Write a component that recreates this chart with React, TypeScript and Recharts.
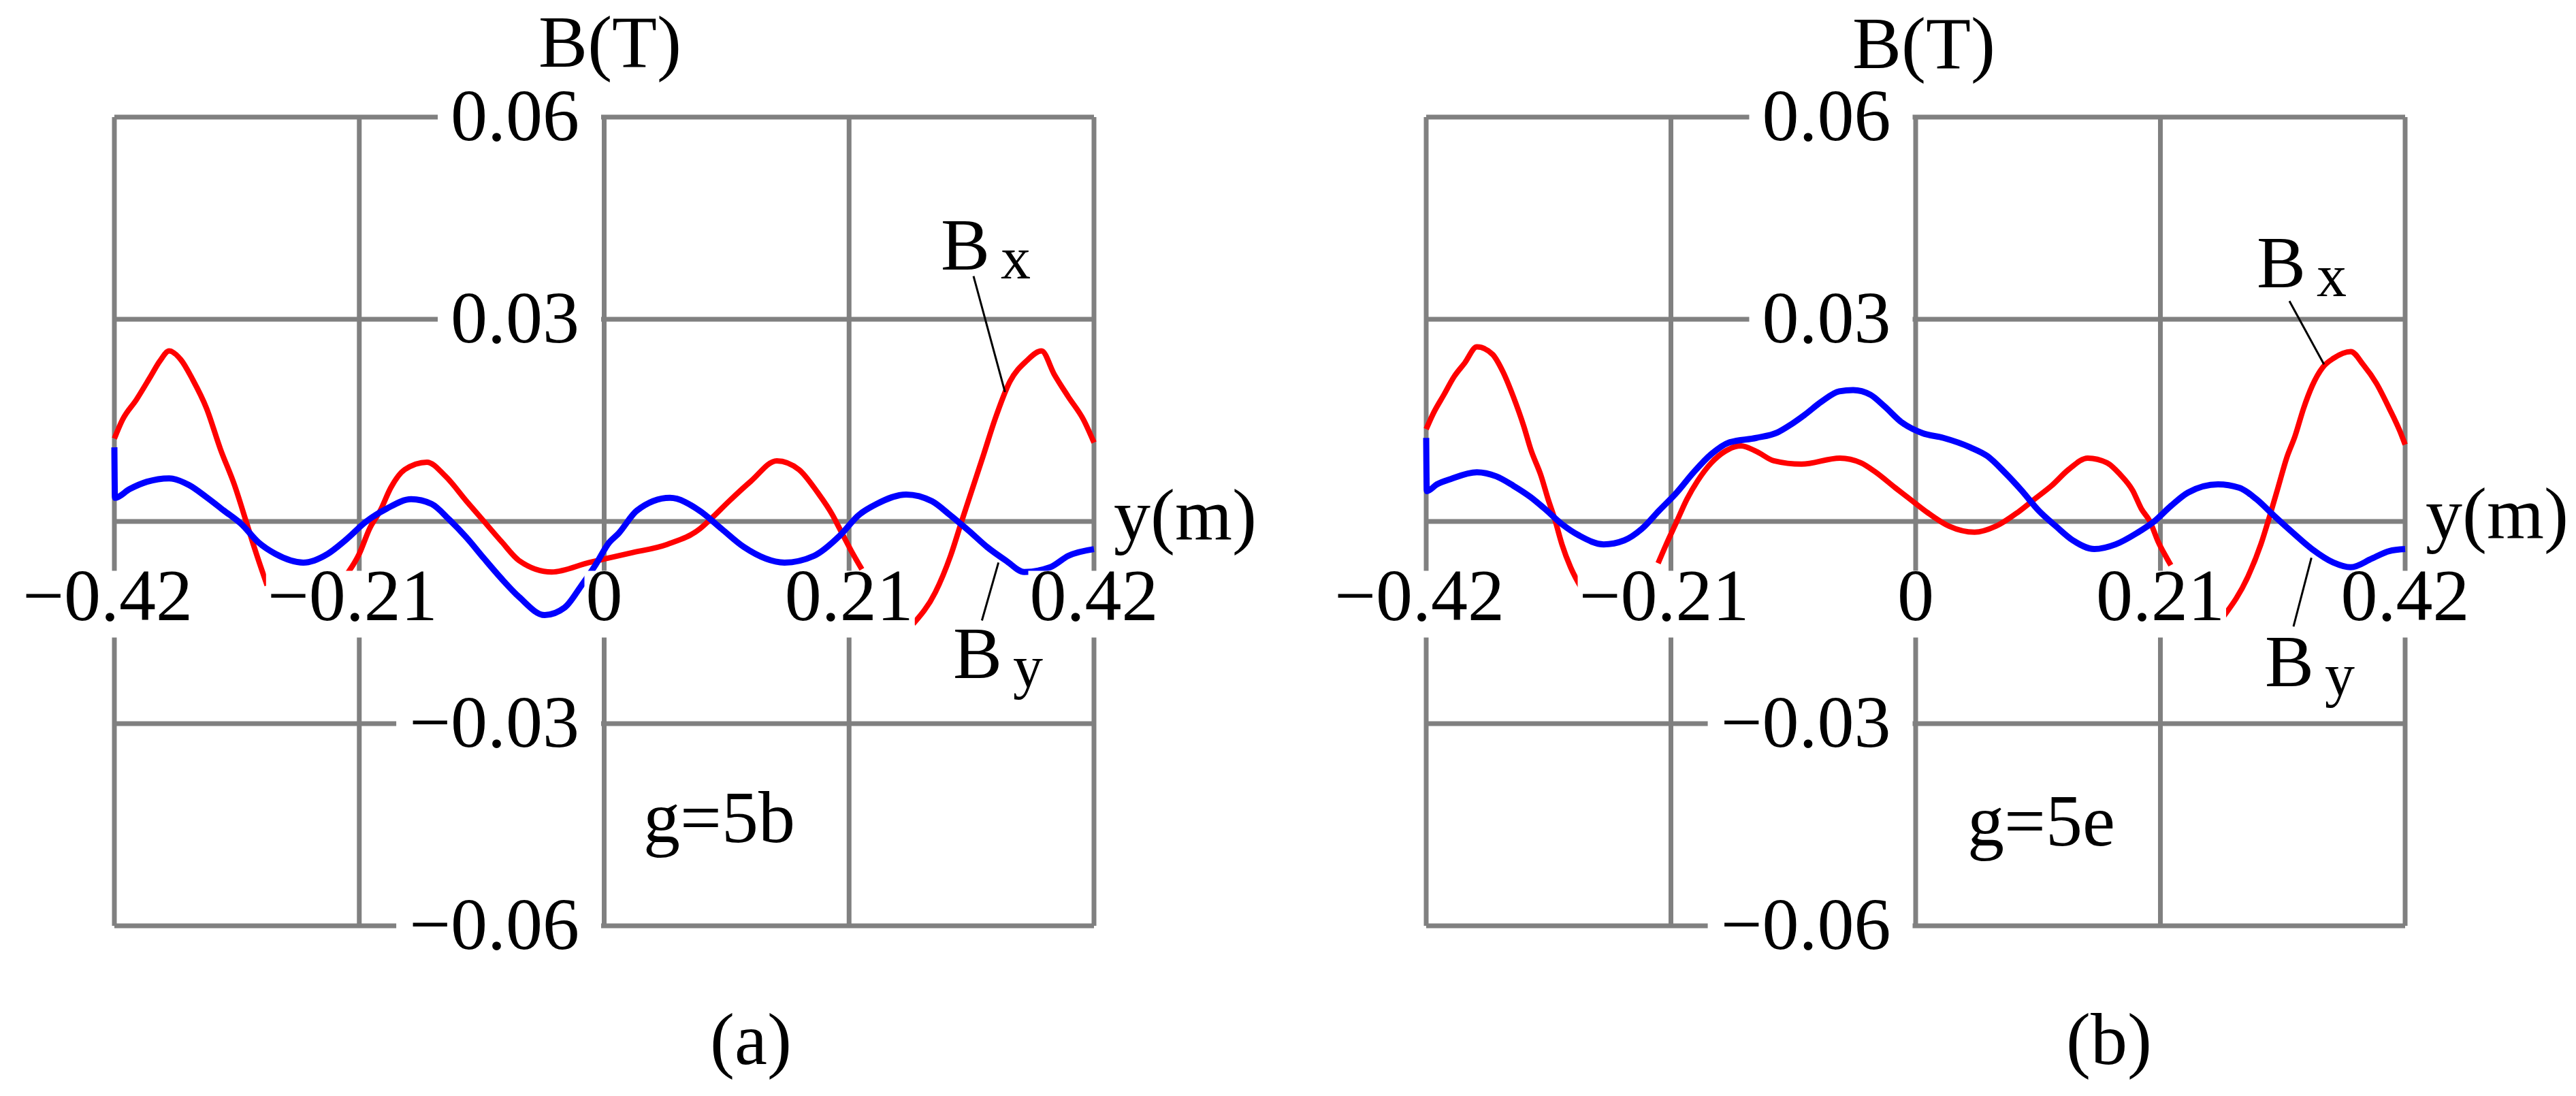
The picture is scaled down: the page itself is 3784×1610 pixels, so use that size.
import React from "react";
import {
  LineChart,
  Line,
  XAxis,
  YAxis,
  CartesianGrid,
  ReferenceLine,
  ReferenceDot,
} from "recharts";

const FONT = "'Liberation Serif', 'Times New Roman', serif";
const FS = 108;

const xTicks = [-0.42, -0.21, 0, 0.21, 0.42];
const xTickLabels = ["−0.42", "−0.21", "0", "0.21", "0.42"];
const yTicks = [-0.06, -0.03, 0, 0.03, 0.06];
const yTickLabels = ["−0.06", "−0.03", "", "0.03", "0.06"];

// panel (a), g=5b
const posBxA = [
  -0.42, -0.413, -0.401, -0.389, -0.381, -0.373, -0.363, -0.353, -0.341, -0.329,
  -0.317, -0.307, -0.299, -0.289, -0.26, -0.2235, -0.21, -0.201, -0.192, -0.183,
  -0.171, -0.152, -0.136, -0.118, -0.103, -0.088, -0.073, -0.045, -0.013, 0.002,
  0.022, 0.054, 0.082, 0.091, 0.107, 0.126, 0.148, 0.167, 0.183, 0.196,
  0.202, 0.212, 0.221, 0.24, 0.265, 0.284, 0.297, 0.3065, 0.316, 0.3255,
  0.335, 0.348, 0.362, 0.375, 0.386, 0.398, 0.411, 0.42,
];
const bxA = [
  0.0123, 0.0151, 0.0181, 0.0215, 0.0238, 0.0253, 0.024, 0.0211, 0.0168, 0.0107,
  0.0054, 0.0, -0.0044, -0.0095, null, -0.0085, -0.0048, -0.001, 0.0016, 0.005,
  0.0077, 0.0088, 0.0067, 0.003, 0.0, -0.003, -0.0058, -0.0075, -0.0061, -0.0055,
  -0.0047, -0.0034, -0.0011, 0.0003, 0.003, 0.006, 0.009, 0.0077, 0.0043, 0.0009,
  -0.0011, -0.0044, -0.0071, null, -0.0152, -0.0105, -0.0051, 0.0, 0.005, 0.01,
  0.0151, 0.0208, 0.0238, 0.0253, 0.0218, 0.0185, 0.0151, 0.0117,
];
const posByA = [
  -0.42, -0.4195, -0.407, -0.392, -0.373, -0.356, -0.341, -0.326, -0.311, -0.2965,
  -0.282, -0.258, -0.237, -0.222, -0.204, -0.1865, -0.1655, -0.148, -0.133, -0.118,
  -0.103, -0.088, -0.073, -0.051, -0.034, -0.0195, -0.0076, 0.0044, 0.0122, 0.028,
  0.0564, 0.0818, 0.1007, 0.1198, 0.1546, 0.18, 0.2021, 0.218, 0.2337, 0.259,
  0.2811, 0.2969, 0.3128, 0.3284, 0.3445, 0.3602, 0.3824, 0.398, 0.42,
];
const byA = [
  0.011, 0.0035, 0.0048, 0.0059, 0.0064, 0.0054, 0.0036, 0.0016, -0.0004, -0.0031,
  -0.0048, -0.0061, -0.0048, -0.0028, 0.0, 0.0019, 0.0033, 0.0026, 0.0003, -0.0024,
  -0.0055, -0.0085, -0.0112, -0.0139, -0.0128, -0.0095, -0.0065, -0.0031, -0.0018, 0.0016,
  0.0035, 0.0016, -0.0011, -0.0038, -0.0061, -0.0051, -0.0021, 0.0009, 0.0026, 0.004,
  0.003, 0.0009, -0.0014, -0.0038, -0.0058, -0.0075, -0.0068, -0.0051, -0.0041,
];

// panel (b), g=5e
const posBxB = [
  -0.42, -0.4137, -0.4048, -0.396, -0.387, -0.3765, -0.3631, -0.3541, -0.3452, -0.3362,
  -0.3303, -0.3213, -0.3154, -0.3096, -0.3035, -0.2961, -0.2857, -0.2737, -0.268, -0.245,
  -0.221, -0.214, -0.205, -0.1963, -0.1872, -0.1753, -0.1636, -0.15, -0.1367, -0.1217,
  -0.098, -0.065, -0.047, -0.035, -0.0175, -0.004, 0.0103, 0.0286, 0.0505, 0.0689,
  0.0872, 0.1019, 0.1166, 0.1312, 0.1477, 0.1642, 0.1753, 0.1862, 0.1936, 0.201,
  0.2083, 0.2157, 0.219, 0.24, 0.2646, 0.2851, 0.2962, 0.3036, 0.3109, 0.3183,
  0.3256, 0.3329, 0.3402, 0.3495, 0.3585, 0.3733, 0.3843, 0.3953, 0.4063, 0.4155,
  0.42,
];
const bxB = [
  0.0137, 0.0161, 0.0188, 0.0215, 0.0235, 0.0259, 0.0248, 0.0222, 0.0185, 0.0141,
  0.0107, 0.0067, 0.0033, 0.0003, -0.0034, -0.0068, -0.0102, -0.0132, -0.0145, null,
  -0.0062, -0.0034, 0.0, 0.0033, 0.006, 0.0087, 0.0104, 0.0112, 0.0104, 0.009,
  0.0085, 0.0094, 0.0087, 0.0074, 0.005, 0.0032, 0.0013, -0.0007, -0.0016, -0.0007,
  0.0013, 0.0033, 0.0053, 0.0077, 0.0094, 0.0087, 0.007, 0.0046, 0.0019, 0.0,
  -0.0031, -0.0055, -0.0065, null, -0.014, -0.0082, -0.0034, 0.0007, 0.005, 0.0094,
  0.0127, 0.0168, 0.0201, 0.0229, 0.0242, 0.0252, 0.0232, 0.0205, 0.0168, 0.0134,
  0.0114,
];
const posByB = [
  -0.42, -0.4195, -0.4108, -0.399, -0.3765, -0.36, -0.3452, -0.3303, -0.3184, -0.3035,
  -0.2886, -0.2677, -0.25, -0.235, -0.2202, -0.205, -0.1905, -0.1753, -0.1604, -0.1367,
  -0.1187, -0.1069, -0.0954, -0.0806, -0.0656, -0.0537, -0.0388, -0.0269, -0.012, 0.0058,
  0.0238, 0.0468, 0.0615, 0.0763, 0.0909, 0.1056, 0.1203, 0.1349, 0.1533, 0.1716,
  0.19, 0.2046, 0.219, 0.2338, 0.2594, 0.2777, 0.2924, 0.3072, 0.3219, 0.3401,
  0.3585, 0.3733, 0.3916, 0.4063, 0.42,
];
const byB = [
  0.0124, 0.0045, 0.0055, 0.0063, 0.0073, 0.0067, 0.0053, 0.0036, 0.0019, -0.0004,
  -0.0021, -0.0034, -0.0028, -0.0011, 0.0016, 0.0043, 0.0073, 0.01, 0.0117, 0.0124,
  0.0132, 0.0144, 0.0158, 0.0178, 0.0193, 0.0195, 0.0188, 0.0171, 0.0147, 0.0131,
  0.0124, 0.011, 0.0097, 0.0073, 0.0046, 0.0016, -0.0007, -0.0028, -0.0041, -0.0034,
  -0.0017, 0.0, 0.0023, 0.0043, 0.0055, 0.005, 0.0033, 0.0009, -0.0014, -0.0041,
  -0.0061, -0.0068, -0.0055, -0.0044, -0.0041,
];

// annotations, in data units
const notesA = [
  { text: "B(T)", pos: 0.005, val: 0.0675, anchor: "middle" },
  { text: "y(m)", pos: 0.437, val: -0.0027, anchor: "start" },
  { text: "B", sub: "x", pos: 0.2887, val: 0.0374, anchor: "start" },
  { text: "B", sub: "y", pos: 0.2992, val: -0.0232, anchor: "start" },
  { text: "g=5b", pos: 0.0336, val: -0.0476, anchor: "start" },
];
const notesB = [
  { text: "B(T)", pos: 0.007, val: 0.0673, anchor: "middle" },
  { text: "y(m)", pos: 0.4375, val: -0.0025, anchor: "start" },
  { text: "B", sub: "x", pos: 0.2926, val: 0.0347, anchor: "start" },
  { text: "B", sub: "y", pos: 0.2996, val: -0.0244, anchor: "start" },
  { text: "g=5e", pos: 0.0444, val: -0.0481, anchor: "start" },
];
const leadersA = [
  [{ x: 0.3167, y: 0.0364 }, { x: 0.3437, y: 0.0192 }],
  [{ x: 0.3239, y: -0.0147 }, { x: 0.3381, y: -0.0061 }],
];
const leadersB = [
  [{ x: 0.3207, y: 0.0327 }, { x: 0.3504, y: 0.0233 }],
  [{ x: 0.3242, y: -0.0156 }, { x: 0.3396, y: -0.0054 }],
];

const toRows = (pos: number[], val: (number | null)[]) =>
  pos.map((p, i) => ({ pos: p, v: val[i] }));

const textWidth = (s: string) =>
  s.split("").reduce((w, c) => w + (c === "−" ? 0.564 : c === "." ? 0.25 : 0.5), 0) * FS;

const labelFor = (ticks: number[], labels: string[], value: any) => {
  const i = ticks.findIndex((t) => Math.abs(t - Number(value)) < 1e-9);
  return i >= 0 ? labels[i] : "";
};

type PanelProps = {
  width: number;
  margin: { top: number; right: number; bottom: number; left: number };
  bx: { pos: number; v: number | null }[];
  by: { pos: number; v: number | null }[];
  notes: { text: string; sub?: string; pos: number; val: number; anchor: string }[];
  leaders: { x: number; y: number }[][];
};

const HEIGHT = 1610;

function Panel({ width, margin, bx, by, notes, leaders }: PanelProps) {
  const plotW = width - margin.left - margin.right;
  const plotH = HEIGHT - margin.top - margin.bottom;
  const zeroX = margin.left + plotW / 2;
  const zeroY = margin.top + plotH / 2;

  const XTick = (props: any) => {
    const label = labelFor(xTicks, xTickLabels, props.payload?.value);
    if (!label) return <g />;
    const w = textWidth(label);
    const cx = props.x + (label.startsWith("−") ? -10 : 0);
    const base = zeroY + 144;
    return (
      <g>
        <rect x={cx - w / 2 - 2} y={base - 72} width={w + 4} height={98} fill="#fff" />
        <text x={cx} y={base} textAnchor="middle" fontFamily={FONT} fontSize={FS} fill="#000">
          {label}
        </text>
      </g>
    );
  };

  const YTick = (props: any) => {
    const label = labelFor(yTicks, yTickLabels, props.payload?.value);
    if (!label) return <g />;
    const w = textWidth(label);
    const rx = zeroX - 36;
    const base = props.y + 34;
    return (
      <g>
        <rect x={rx - w - 19} y={base - 86} width={zeroX - 4 - (rx - w - 19)} height={106} fill="#fff" />
        <text x={rx} y={base} textAnchor="end" fontFamily={FONT} fontSize={FS} fill="#000">
          {label}
        </text>
      </g>
    );
  };

  return (
    <LineChart width={width} height={HEIGHT} margin={margin}>
      <CartesianGrid stroke="#808080" strokeWidth={7} />
      <XAxis
        type="number"
        dataKey="pos"
        domain={[-0.42, 0.42]}
        ticks={xTicks}
        interval={0}
        height={1}
        axisLine={false}
        tickLine={false}
        tick={XTick}
      />
      <YAxis
        type="number"
        domain={[-0.06, 0.06]}
        ticks={yTicks}
        interval={0}
        width={1}
        axisLine={false}
        tickLine={false}
        tick={YTick}
      />
      <Line
        data={bx}
        dataKey="v"
        type="monotone"
        stroke="#ff0000"
        strokeWidth={8}
        dot={false}
        isAnimationActive={false}
      />
      <Line
        data={by}
        dataKey="v"
        type="monotone"
        stroke="#0000ff"
        strokeWidth={9}
        dot={false}
        isAnimationActive={false}
      />
      {leaders.map((seg, i) => (
        <ReferenceLine key={"l" + i} segment={seg} stroke="#000" strokeWidth={3} ifOverflow="visible" />
      ))}
      {notes.map((n, i) => (
        <ReferenceDot
          key={"n" + i}
          x={n.pos}
          y={n.val}
          r={1}
          ifOverflow="visible"
          shape={(p: any) => (
            <text
              x={p.cx}
              y={p.cy}
              textAnchor={n.anchor}
              fontFamily={FONT}
              fontSize={FS}
              fill="#000"
            >
              {n.text}
              {n.sub ? (
                <tspan dx={16} dy={13} fontSize={88}>
                  {n.sub}
                </tspan>
              ) : null}
            </text>
          )}
        />
      ))}
    </LineChart>
  );
}

export default function App() {
  return (
    <div
      style={{
        position: "absolute",
        left: 0,
        top: 0,
        width: 3784,
        height: HEIGHT,
        background: "#fff",
      }}
    >
      <div style={{ position: "absolute", left: 0, top: 0 }}>
        <Panel
          width={1890}
          margin={{ top: 172, right: 283, bottom: 249, left: 167 }}
          bx={toRows(posBxA, bxA)}
          by={toRows(posByA, byA)}
          notes={notesA}
          leaders={leadersA}
        />
      </div>
      <div style={{ position: "absolute", left: 1890, top: 0 }}>
        <Panel
          width={1894}
          margin={{ top: 172, right: 251, bottom: 249, left: 204 }}
          bx={toRows(posBxB, bxB)}
          by={toRows(posByB, byB)}
          notes={notesB}
          leaders={leadersB}
        />
      </div>
      <svg
        width={3784}
        height={HEIGHT}
        style={{ position: "absolute", left: 0, top: 0, pointerEvents: "none" }}
      >
        <text x={1103} y={1563} textAnchor="middle" fontFamily={FONT} fontSize={FS} fill="#000">
          (a)
        </text>
        <text x={3098} y={1563} textAnchor="middle" fontFamily={FONT} fontSize={FS} fill="#000">
          (b)
        </text>
      </svg>
    </div>
  );
}
